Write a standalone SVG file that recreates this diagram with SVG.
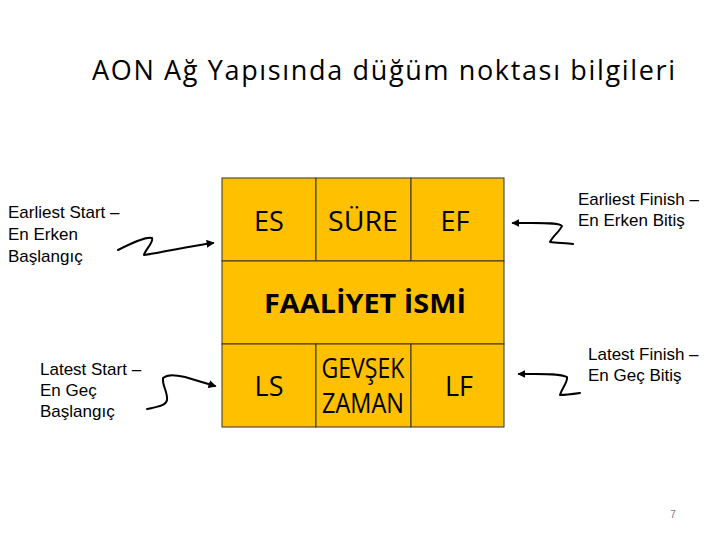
<svg xmlns="http://www.w3.org/2000/svg" width="720" height="540" viewBox="0 0 720 540">
<defs>
<style>
.t{font-family:"Open Sans","Noto Sans",sans-serif;fill:#000}
.a{font-family:"Liberation Sans",Arial,sans-serif;font-size:17px;fill:#000}
.cell{fill:#FFC000;stroke:#333;stroke-width:1}
.c{font-family:"Open Sans","Noto Sans",sans-serif;font-size:27px;text-anchor:middle;fill:#000}
.sq{fill:none;stroke:#000;stroke-width:2;stroke-linecap:round;stroke-linejoin:round}
</style>
<marker id="ah" viewBox="0 0 10 10" refX="8" refY="5" markerWidth="4" markerHeight="4" orient="auto-start-reverse">
<path d="M0,0 L10,5 L0,10 z" fill="#000"/>
</marker>
</defs>
<rect width="720" height="540" fill="#fff"/>
<text class="t" x="92" y="80" font-size="27" textLength="583" lengthAdjust="spacing">AON Ağ Yapısında düğüm noktası bilgileri</text>

<g id="node-box">
<rect class="cell" x="222" y="178" width="94" height="83"/>
<rect class="cell" x="316" y="178" width="95" height="83"/>
<rect class="cell" x="411" y="178" width="93" height="83"/>
<rect class="cell" x="222" y="261" width="282" height="83"/>
<rect class="cell" x="222" y="344" width="94" height="83"/>
<rect class="cell" x="316" y="344" width="95" height="83"/>
<rect class="cell" x="411" y="344" width="93" height="83"/>
<text class="c" x="269" y="231">ES</text>
<text class="c" x="363" y="231" textLength="70" lengthAdjust="spacingAndGlyphs">SÜRE</text>
<text class="c" x="455" y="231">EF</text>
<text class="c" x="365" y="313" font-weight="bold" font-size="25" textLength="202" lengthAdjust="spacingAndGlyphs">FAALİYET İSMİ</text>
<text class="c" x="269" y="396">LS</text>
<text class="c" x="363" y="378" font-size="18" textLength="83" lengthAdjust="spacingAndGlyphs">GEVŞEK</text>
<text class="c" x="363" y="413" font-size="18" textLength="82" lengthAdjust="spacingAndGlyphs">ZAMAN</text>
<text class="c" x="459" y="396">LF</text>
</g>

<g id="label-es">
<text class="a" x="8" y="218">Earliest Start –</text>
<text class="a" x="8" y="240">En Erken</text>
<text class="a" x="8" y="262">Başlangıç</text>
</g>
<g id="label-ls">
<text class="a" x="40" y="375">Latest Start –</text>
<text class="a" x="40" y="396">En Geç</text>
<text class="a" x="40" y="417">Başlangıç</text>
</g>
<g id="label-ef">
<text class="a" x="578" y="205">Earliest Finish –</text>
<text class="a" x="578" y="226">En Erken Bitiş</text>
</g>
<g id="label-lf">
<text class="a" x="588" y="360">Latest Finish –</text>
<text class="a" x="588" y="381">En Geç Bitiş</text>
</g>

<g id="connectors">
<path class="sq" d="M118,250 C130,244 146,236 152,238 C154,242 145,250 144,255 C165,252 190,246 213,243" marker-end="url(#ah)"/>
<path class="sq" d="M147,409 C156,407 166,406 167,400 C168,392 162,386 163,378 C168,374 175,375 185,377 C195,380 205,383 215,386" marker-end="url(#ah)"/>
<path class="sq" d="M573,244 C566,243 556,243 550,242 C553,236 560,231 562,226 C560,222 540,223 513,223" marker-end="url(#ah)"/>
<path class="sq" d="M580,393 C573,394 566,395 560,395 C562,388 568,382 567,377 C560,373 540,374 519,374" marker-end="url(#ah)"/>
</g>

<text x="673" y="518" font-family="Liberation Sans,Arial,sans-serif" font-size="10" fill="#777" text-anchor="middle">7</text>
</svg>
